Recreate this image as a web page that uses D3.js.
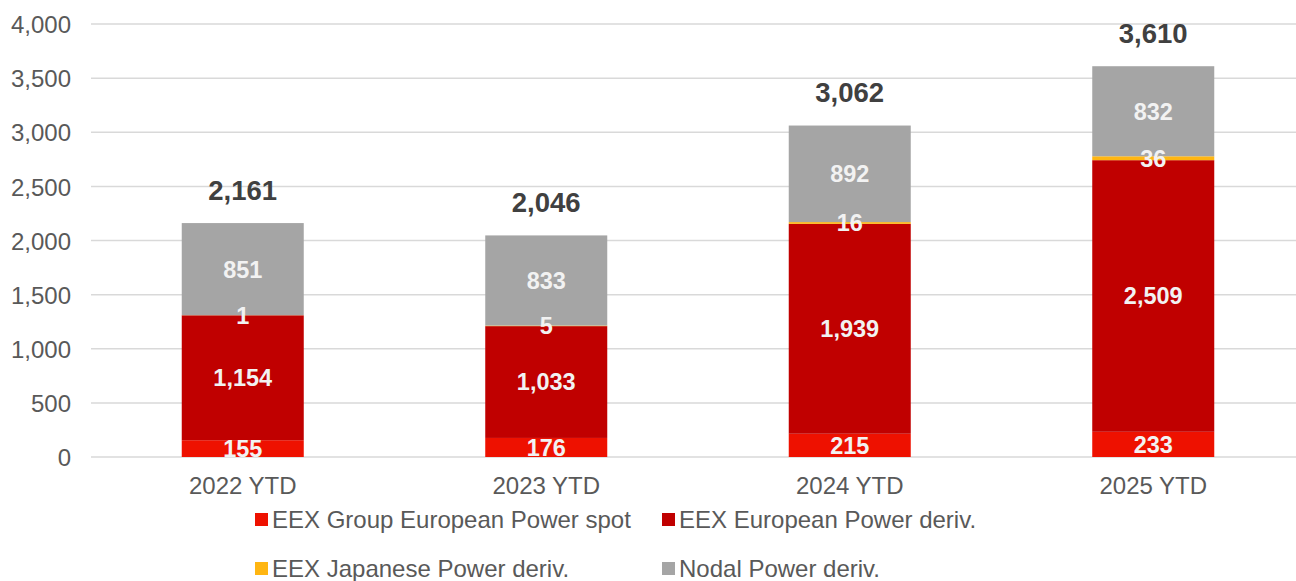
<!DOCTYPE html>
<meta charset="utf-8">
<style>
body { margin: 0; background: #fff; font-family: Arial, "Liberation Sans", sans-serif; }
svg text { font-family: Arial, "Liberation Sans", sans-serif; }
.grid line { stroke: #d9d9d9; stroke-width: 1.5; }
.tick text { fill: #595959; font-size: 24px; }
</style>
<body>
<svg width="1296" height="581"></svg>
<script src="https://d3js.org/d3.v7.min.js"></script>
<script>
var years = ["2022 YTD", "2023 YTD", "2024 YTD", "2025 YTD"];
var spot = [155, 176, 215, 233];
var deriv = [1154, 1033, 1939, 2509];
var japan = [1, 5, 16, 36];
var nodal = [851, 833, 892, 832];
var totals = [2161, 2046, 3062, 3610];
var yTicks = [0, 500, 1000, 1500, 2000, 2500, 3000, 3500, 4000];

var seriesNames = ["EEX Group European Power spot", "EEX European Power deriv.", "EEX Japanese Power deriv.", "Nodal Power deriv."];
var colors = ["#ee1100", "#c00000", "#ffb612", "#a5a5a5"];

var svg = d3.select("svg");

var x = d3.scaleBand().domain(years).range([91, 1305]).paddingInner(0.598).paddingOuter(0.299);
var y = d3.scaleLinear().domain([0, 4000]).range([457, 24]);

// gridlines
svg.append("g").attr("class", "grid")
    .selectAll("line").data(yTicks).enter().append("line")
    .attr("x1", 91).attr("x2", 1296)
    .attr("y1", function(d) { return y(d); })
    .attr("y2", function(d) { return y(d); });

// y axis labels
svg.append("g")
    .attr("transform", "translate(71,0)")
    .call(d3.axisLeft(y).tickValues(yTicks).tickSize(0).tickPadding(0).tickFormat(d3.format(",")))
    .call(function(g) { g.select(".domain").remove(); g.attr("font-family", null); })
    .selectAll("text").attr("dy", "0.36em");

// x axis labels
svg.append("g")
    .attr("transform", "translate(0,457)")
    .call(d3.axisBottom(x).tickSize(0).tickPadding(0))
    .call(function(g) { g.select(".domain").remove(); g.attr("font-family", null); })
    .selectAll("text").attr("y", 28).attr("dy", "0.36em");

// stacked data
var rows = years.map(function(yr, i) {
    return { year: yr, s0: spot[i], s1: deriv[i], s2: japan[i], s3: nodal[i] };
});
var stack = d3.stack().keys(["s0", "s1", "s2", "s3"])(rows);

svg.selectAll(".layer").data(stack).enter().append("g")
    .attr("fill", function(d, i) { return colors[i]; })
    .selectAll("rect").data(function(d) { return d; }).enter().append("rect")
    .attr("x", function(d) { return x(d.data.year); })
    .attr("width", x.bandwidth())
    .attr("y", function(d) { return y(d[1]); })
    .attr("height", function(d) { return y(d[0]) - y(d[1]); });

// segment labels (drawn above all bars)
svg.selectAll(".labels").data(stack).enter().append("g")
    .selectAll("text").data(function(d) { return d; }).enter().append("text")
    .attr("x", function(d) { return x(d.data.year) + x.bandwidth() / 2; })
    .attr("y", function(d) { return (y(d[0]) + y(d[1])) / 2; })
    .attr("dy", "0.36em")
    .attr("text-anchor", "middle")
    .attr("fill", "#f2f2f2")
    .attr("font-size", "23.5px")
    .attr("font-weight", "bold")
    .text(function(d) { return d3.format(",")(d[1] - d[0]); });

// totals
svg.selectAll(".total").data(years).enter().append("text")
    .attr("x", function(d) { return x(d) + x.bandwidth() / 2; })
    .attr("y", function(d, i) { return y(totals[i]) - 33; })
    .attr("dy", "0.36em")
    .attr("text-anchor", "middle")
    .attr("fill", "#404040")
    .attr("font-size", "27.5px")
    .attr("font-weight", "bold")
    .text(function(d, i) { return d3.format(",")(totals[i]); });

// legend
var legendPos = [[255, 519.5], [662, 519.5], [255, 568.5], [662, 568.5]];
var legend = svg.selectAll(".legend").data(seriesNames).enter().append("g")
    .attr("transform", function(d, i) { return "translate(" + legendPos[i][0] + "," + legendPos[i][1] + ")"; });
legend.append("rect")
    .attr("x", 0).attr("y", -6.5).attr("width", 13).attr("height", 13)
    .attr("fill", function(d, i) { return colors[i]; });
legend.append("text")
    .attr("x", 17).attr("dy", "0.36em")
    .attr("fill", "#595959")
    .attr("font-size", "24px")
    .text(function(d) { return d; });
</script>
</body>
